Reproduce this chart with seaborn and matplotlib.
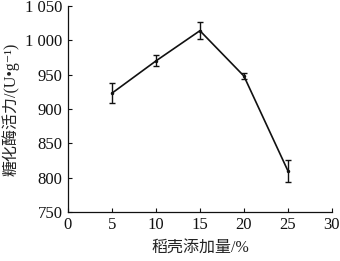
import matplotlib
matplotlib.use("Agg")
import matplotlib.pyplot as plt
import seaborn as sns
import pandas as pd

rice_husk = [5, 10, 15, 20, 25]
activity = [923, 970, 1014, 948, 810]
err = [15, 8, 12, 5, 16]
xticks = [0, 5, 10, 15, 20, 25, 30]
yticks = [750, 800, 850, 900, 950, 1000, 1050]
ytick_labels = ["750", "800", "850", "900", "950", "1 000", "1 050"]

sns.set_theme(style="ticks")
plt.rcParams['font.family'] = ['Liberation Serif', 'Noto Sans CJK SC', 'DejaVu Sans']
plt.rcParams['axes.unicode_minus'] = False

df = pd.DataFrame({"x": rice_husk, "y": activity, "e": err})

fig = plt.figure(figsize=(3.4, 2.61), dpi=100)
ax = fig.add_axes([0.2, 0.188, 0.776, 0.789])
sns.lineplot(data=df, x="x", y="y", ax=ax, color="#111111", linewidth=1.2,
             marker="o", markersize=2.5, markeredgewidth=0)
ax.errorbar(df["x"], df["y"], yerr=df["e"], fmt="none", ecolor="#111111",
            elinewidth=1.0, capsize=2.5, capthick=1.0)

ax.set_xlim(0, 30)
ax.set_ylim(750, 1050)
ax.set_xticks(xticks)
ax.set_yticks(yticks)
ax.set_yticklabels(ytick_labels)
ax.tick_params(direction="in", length=3, width=0.8, labelsize=12, colors="#111111", pad=4)
ax.set_xlabel("稻壳添加量/%", fontsize=11.5, color="#222222", labelpad=5)
ax.set_ylabel("糖化酶活力/(U•g⁻¹)", fontsize=11.5, color="#222222", labelpad=4)
for s in ["top", "right"]:
    ax.spines[s].set_visible(False)
for s in ["left", "bottom"]:
    ax.spines[s].set_linewidth(0.9)
    ax.spines[s].set_color("#111111")

fig.savefig("out.png", dpi=100)
